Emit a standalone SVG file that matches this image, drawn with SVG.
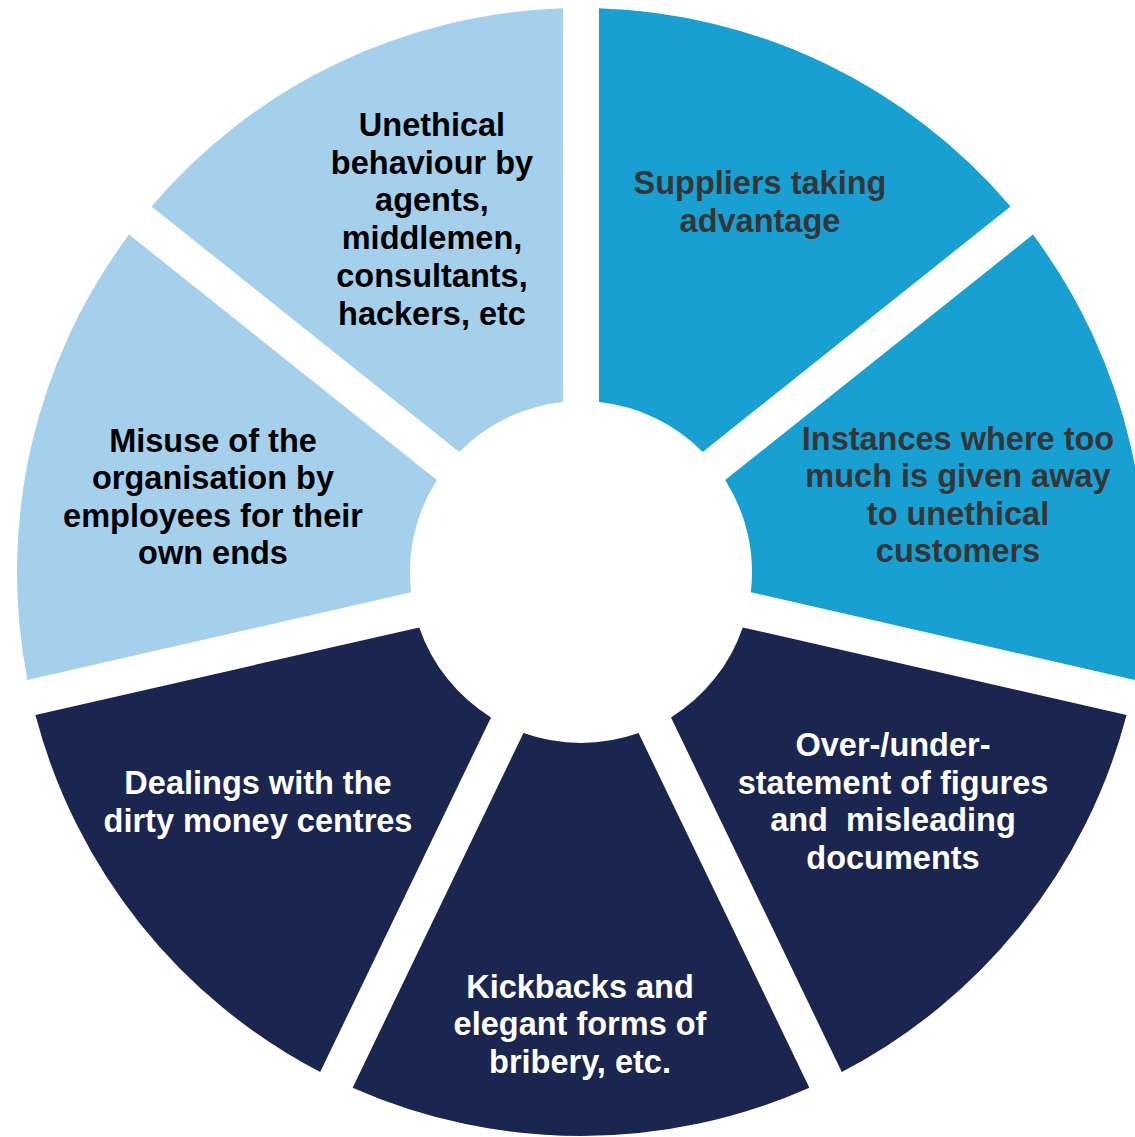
<svg xmlns="http://www.w3.org/2000/svg" width="1135" height="1137" viewBox="0 0 1135 1137">
<style>
.light{fill:#A4D0EB}
.mid{fill:#18A0D3}
.navy{fill:#1A2550}
text{font-family:"Liberation Sans",Arial,sans-serif;font-weight:bold;font-size:32.5px;text-anchor:middle}
.tdark{fill:#000000}
.tgray{fill:#353535}
.twhite{fill:#FFFFFF}
</style>
<rect x="0" y="0" width="1135" height="1137" fill="#FFFFFF"/>
<g id="seg-suppliers">
<path class="mid" d="M599,8.29 A564,564 0 0 1 1010.51,206.46 L702.73,451.90 A171,171 0 0 0 599,401.95 Z"/>
<text class="tgray"><tspan x="760" y="194">Suppliers taking</tspan><tspan x="760" y="231.6">advantage</tspan></text>
</g>
<g id="seg-instances">
<path class="mid" d="M1032.95,234.60 A564,564 0 0 1 1134.59,679.89 L750.80,592.29 A171,171 0 0 0 725.17,480.04 Z"/>
<text class="tgray"><tspan x="958" y="449.5">Instances where too</tspan><tspan x="958" y="487">much is given away</tspan><tspan x="958" y="524.5">to unethical</tspan><tspan x="958" y="562">customers</tspan></text>
</g>
<g id="seg-overunder">
<path class="navy" d="M1126.57,714.99 A564,564 0 0 1 841.80,1072.08 L671.00,717.40 A171,171 0 0 0 742.78,627.39 Z"/>
<text class="twhite" xml:space="preserve"><tspan x="893" y="756">Over-/under-</tspan><tspan x="893" y="793.6">statement of figures</tspan><tspan x="893" y="831.2">and  misleading</tspan><tspan x="893" y="868.8">documents</tspan></text>
</g>
<g id="seg-kickbacks">
<path class="navy" d="M809.36,1087.70 A564,564 0 0 1 352.64,1087.70 L523.44,733.02 A171,171 0 0 0 638.56,733.02 Z"/>
<text class="twhite"><tspan x="580" y="997.5">Kickbacks and</tspan><tspan x="580" y="1035.1">elegant forms of</tspan><tspan x="580" y="1072.7">bribery, etc.</tspan></text>
</g>
<g id="seg-dealings">
<path class="navy" d="M320.20,1072.08 A564,564 0 0 1 35.43,714.99 L419.22,627.39 A171,171 0 0 0 491.00,717.40 Z"/>
<text class="twhite"><tspan x="258" y="794">Dealings with the</tspan><tspan x="258" y="831.6">dirty money centres</tspan></text>
</g>
<g id="seg-misuse">
<path class="light" d="M27.41,679.89 A564,564 0 0 1 129.05,234.60 L436.83,480.04 A171,171 0 0 0 411.20,592.29 Z"/>
<text class="tdark"><tspan x="213" y="451.5">Misuse of the</tspan><tspan x="213" y="489.1">organisation by</tspan><tspan x="213" y="526.7">employees for their</tspan><tspan x="213" y="564.3">own ends</tspan></text>
</g>
<g id="seg-unethical">
<path class="light" d="M151.49,206.46 A564,564 0 0 1 563,8.29 L563,401.95 A171,171 0 0 0 459.27,451.90 Z"/>
<text class="tdark"><tspan x="432" y="136">Unethical</tspan><tspan x="432" y="173.7">behaviour by</tspan><tspan x="432" y="211.4">agents,</tspan><tspan x="432" y="249.1">middlemen,</tspan><tspan x="432" y="286.8">consultants,</tspan><tspan x="432" y="324.5">hackers, etc</tspan></text>
</g>
<g id="connectors"></g>
</svg>
